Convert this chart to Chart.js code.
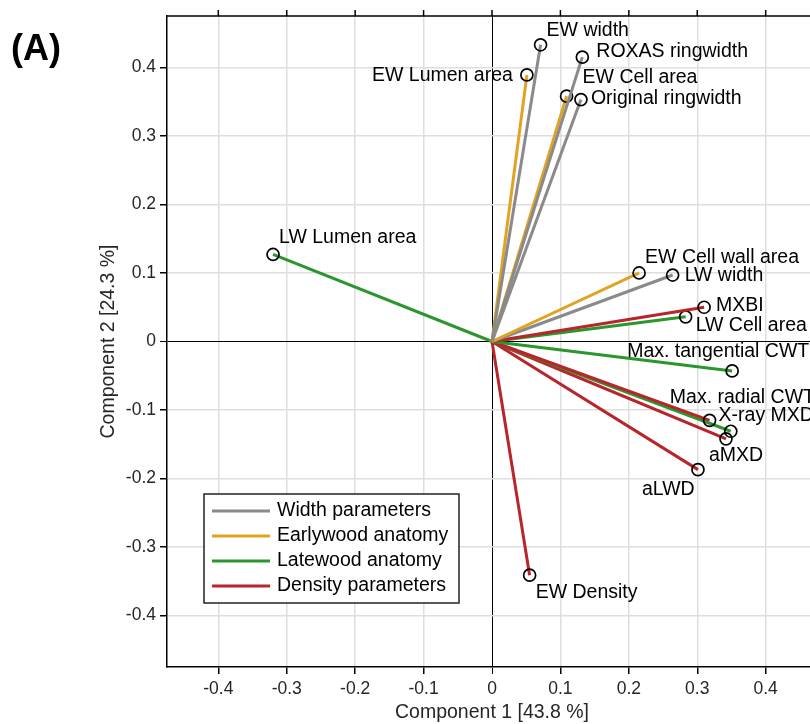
<!DOCTYPE html>
<html>
<head>
<meta charset="utf-8">
<script src="https://cdn.jsdelivr.net/npm/chart.js@4/dist/chart.umd.min.js"></script>
<style>
  html, body { margin: 0; padding: 0; overflow: hidden; background: #fff; }
</style>
</head>
<body>
<canvas id="biplot" width="830" height="724"></canvas>
<script>
// PCA loadings
const variables = [
  "EW width", "ROXAS ringwidth", "EW Lumen area", "EW Cell area",
  "Original ringwidth", "LW Lumen area", "EW Cell wall area", "LW width",
  "MXBI", "LW Cell area", "Max. tangential CWT", "X-ray MXD",
  "Max. radial CWT", "aMXD", "aLWD", "EW Density"
];
const comp1 = [0.071, 0.132, 0.051, 0.109, 0.130, -0.320, 0.215, 0.264,
               0.310, 0.283, 0.351, 0.318, 0.349, 0.342, 0.301, 0.055];
const comp2 = [0.433, 0.415, 0.389, 0.358, 0.353, 0.127, 0.100, 0.097,
               0.050, 0.036, -0.043, -0.115, -0.131, -0.142, -0.187, -0.341];
const groupOf = [0, 0, 1, 1, 0, 2, 1, 0, 3, 2, 2, 3, 2, 3, 3, 3];
const groups = ["Width parameters", "Earlywood anatomy", "Latewood anatomy", "Density parameters"];
const axisTitles = ["Component 1 [43.8 %]", "Component 2 [24.3 %]"];

const groupColors = ["#8a8a8a", "#e0a422", "#2b962e", "#b8252a"];
// label placement relative to the marker, in pixels: [dx, dy, align]
const labelPos = [
  [6, -14, "left"], [14, -5, "left"], [-14, 1, "right"], [16, -19, "left"],
  [10, -1, "left"], [6, -17, "left"], [6, -15, "left"], [12, 1, "left"],
  [12, -2, "left"], [10, 9, "left"], [-105, -19, "left"], [9, -5, "left"],
  [-61, -34, "left"], [-17, 17, "left"], [-56, 20, "left"], [6, 17, "left"]
];

const FONT = "'Liberation Sans', Arial, Helvetica, sans-serif";

const datasets = variables.map((name, i) => ({
  label: name,
  data: [{ x: 0, y: 0 }, { x: comp1[i], y: comp2[i] }],
  showLine: true,
  borderColor: groupColors[groupOf[i]],
  borderWidth: 3,
  pointRadius: [0, 6],
  pointBorderColor: "#000",
  pointBackgroundColor: "rgba(0,0,0,0)",
  pointBorderWidth: 1.7,
}));

const gridColor = (c) => (Math.abs(c.tick.value) < 1e-9 ? "#000" : "#dedede");
const gridWidth = (c) => (Math.abs(c.tick.value) < 1e-9 ? 1 : 1.5);
const fmt = (v) => (Math.abs(v) < 1e-9 ? "0" : v.toFixed(1));

const decorations = {
  id: "decorations",
  afterDatasetsDraw(chart) {
    const { ctx, chartArea, scales } = chart;
    ctx.save();

    // variable labels
    ctx.font = "19.5px " + FONT;
    ctx.fillStyle = "#000";
    ctx.textBaseline = "middle";
    variables.forEach((name, i) => {
      const px = scales.x.getPixelForValue(comp1[i]);
      const py = scales.y.getPixelForValue(comp2[i]);
      ctx.textAlign = labelPos[i][2];
      ctx.fillText(name, px + labelPos[i][0], py + labelPos[i][1]);
    });

    // top frame with outward ticks
    ctx.strokeStyle = "#000";
    ctx.lineWidth = 1.5;
    ctx.beginPath();
    ctx.moveTo(chartArea.left, chartArea.top);
    ctx.lineTo(chartArea.right, chartArea.top);
    scales.x.ticks.forEach((t) => {
      const px = scales.x.getPixelForValue(t.value);
      ctx.moveTo(px, chartArea.top);
      ctx.lineTo(px, chartArea.top - 6);
    });
    ctx.stroke();

    // legend box
    const lx = 204, ly = 494, lw = 255, lh = 109;
    ctx.fillStyle = "#fff";
    ctx.fillRect(lx, ly, lw, lh);
    ctx.lineWidth = 1.5;
    ctx.strokeStyle = "#222";
    ctx.strokeRect(lx, ly, lw, lh);
    ctx.textAlign = "left";
    groups.forEach((g, k) => {
      const yy = ly + 17 + k * 25;
      ctx.strokeStyle = groupColors[k];
      ctx.lineWidth = 3;
      ctx.beginPath();
      ctx.moveTo(lx + 8, yy);
      ctx.lineTo(lx + 66, yy);
      ctx.stroke();
      ctx.fillStyle = "#000";
      ctx.fillText(g, lx + 73, yy);
    });

    // panel letter
    ctx.font = "bold 36px " + FONT;
    ctx.textAlign = "center";
    ctx.fillText("(A)", 36, 50);
    ctx.restore();
  },
};

new Chart(document.getElementById("biplot"), {
  type: "scatter",
  data: { datasets },
  options: {
    responsive: false,
    animation: false,
    layout: { padding: { top: 16, right: 13, left: 0, bottom: 0 } },
    plugins: { legend: { display: false }, tooltip: { enabled: false } },
    scales: {
      x: {
        type: "linear",
        position: "bottom",
        min: -0.475,
        max: 0.475,
        afterFit: (s) => { s.height = 57; },
        border: { color: "#000", width: 1.5 },
        grid: { color: gridColor, lineWidth: gridWidth, tickColor: "#000", tickLength: 7 },
        ticks: {
          stepSize: 0.1, includeBounds: false, callback: fmt,
          font: { family: FONT, size: 17.5 }, color: "#262626", padding: 5, maxRotation: 0,
        },
        title: {
          display: true, text: axisTitles[0], color: "#262626",
          font: { family: FONT, size: 19.5 }, padding: { top: 0, bottom: 0 },
        },
      },
      y: {
        type: "linear",
        position: "left",
        min: -0.475,
        max: 0.475,
        afterFit: (s) => { s.width = 167; },
        border: { color: "#000", width: 1.5 },
        grid: { color: gridColor, lineWidth: gridWidth, tickColor: "#000", tickLength: 7 },
        ticks: {
          stepSize: 0.1, includeBounds: false, callback: fmt,
          font: { family: FONT, size: 17.5 }, color: "#262626", padding: 4,
        },
        title: {
          display: true, text: axisTitles[1], color: "#262626",
          font: { family: FONT, size: 19.5 }, padding: { top: 97, bottom: 0 },
        },
      },
    },
  },
  plugins: [decorations],
});
</script>
</body>
</html>
